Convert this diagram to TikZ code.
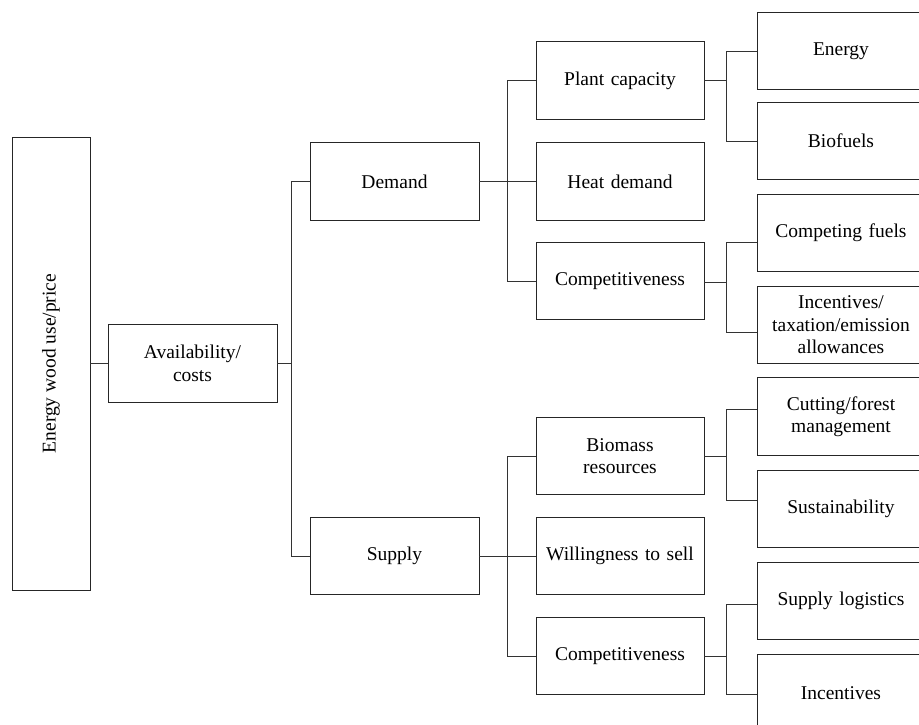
\documentclass[tikz,border=0pt]{standalone}
\usepackage{fontspec}
\setmainfont{Liberation Serif}
\begin{document}
\begin{tikzpicture}[x=1pt,y=-1pt,
  box/.style={draw=black!85,line width=0.95pt,fill=white,inner sep=2pt,align=center,
    font=\fontsize{19.5}{22.5}\selectfont,text=black},
  mid/.style={box,minimum width=168pt,minimum height=78pt,text width=162pt},
  leaf/.style={box,minimum width=168pt,minimum height=77pt,text width=160pt},
  conn/.style={draw=black!80,line width=0.95pt}]
\useasboundingbox (0,0) rectangle (919,724);
\node[box,minimum width=78pt,minimum height=453pt] (root) at (51,363.5) {};
\node[rotate=90,font=\fontsize{19.5}{22.5}\selectfont,text=black] (roottext) at (root.center) {Energy wood use/price};
\node[mid,minimum width=169pt] (avail) at (192.5,363.5) {Availability/\\costs};
\node[mid,minimum width=169pt] (demand) at (394.5,181.5) {Demand};
\node[mid,minimum width=169pt,minimum height=77pt] (supply) at (394.5,556) {Supply};
\node[mid] (plant) at (620,80.5) {Plant capacity};
\node[mid] (heat) at (620,181.5) {Heat demand};
\node[mid,minimum height=77pt] (comp1) at (620,281) {Competitiveness};
\node[mid,minimum height=77pt] (bio) at (620,456) {Biomass\\resources};
\node[mid,minimum height=77pt] (will) at (620,556) {Willingness to sell};
\node[mid,minimum height=77pt] (comp2) at (620,656) {Competitiveness};
\node[leaf] (energy) at (841,51) {Energy};
\node[leaf] (biofuels) at (841,141) {Biofuels};
\node[leaf] (cf) at (841,233) {Competing fuels};
\node[leaf] (inc1) at (841,325) {Incentives/\\taxation/emission\\allowances};
\node[leaf,minimum height=78pt] (cut) at (841,416.5) {Cutting/forest\\management};
\node[leaf] (sust) at (841,509) {Sustainability};
\node[leaf] (sl) at (841,601) {Supply logistics};
\node[leaf] (inc2) at (841,693) {Incentives};
% connectors
\draw[conn] (root.east |- avail.west) -- (avail.west);
\draw[conn] (avail.east) -- ++(14,0) coordinate (b0);
\draw[conn] (b0) |- (demand.west);
\draw[conn] (b0) |- (supply.west);
\draw[conn] (demand.east) -- ++(28,0) coordinate (b1) -- (heat.west);
\draw[conn] (b1) |- (plant.west);
\draw[conn] (b1) |- (comp1.west);
\draw[conn] (supply.east) -- ++(28,0) coordinate (b2) -- (will.west);
\draw[conn] (b2) |- (bio.west);
\draw[conn] (b2) |- (comp2.west);
\draw[conn] (plant.east) -- ++(22,0) coordinate (b3);
\draw[conn] (b3) |- (energy.west);
\draw[conn] (b3) |- (biofuels.west);
\draw[conn] ([yshift=-1pt]comp1.east) -- ++(22,0) coordinate (b4);
\draw[conn] (b4) |- ([yshift=-9.5pt]cf.west);
\draw[conn] (b4) |- ([yshift=-7.5pt]inc1.west);
\draw[conn] (bio.east) -- ++(22,0) coordinate (b5);
\draw[conn] (b5) |- ([yshift=7pt]cut.west);
\draw[conn] (b5) |- ([yshift=8.5pt]sust.west);
\draw[conn] (comp2.east) -- ++(22,0) coordinate (b6);
\draw[conn] (b6) |- ([yshift=-3.5pt]sl.west);
\draw[conn] (b6) |- ([yshift=-1.5pt]inc2.west);
\end{tikzpicture}
\end{document}
